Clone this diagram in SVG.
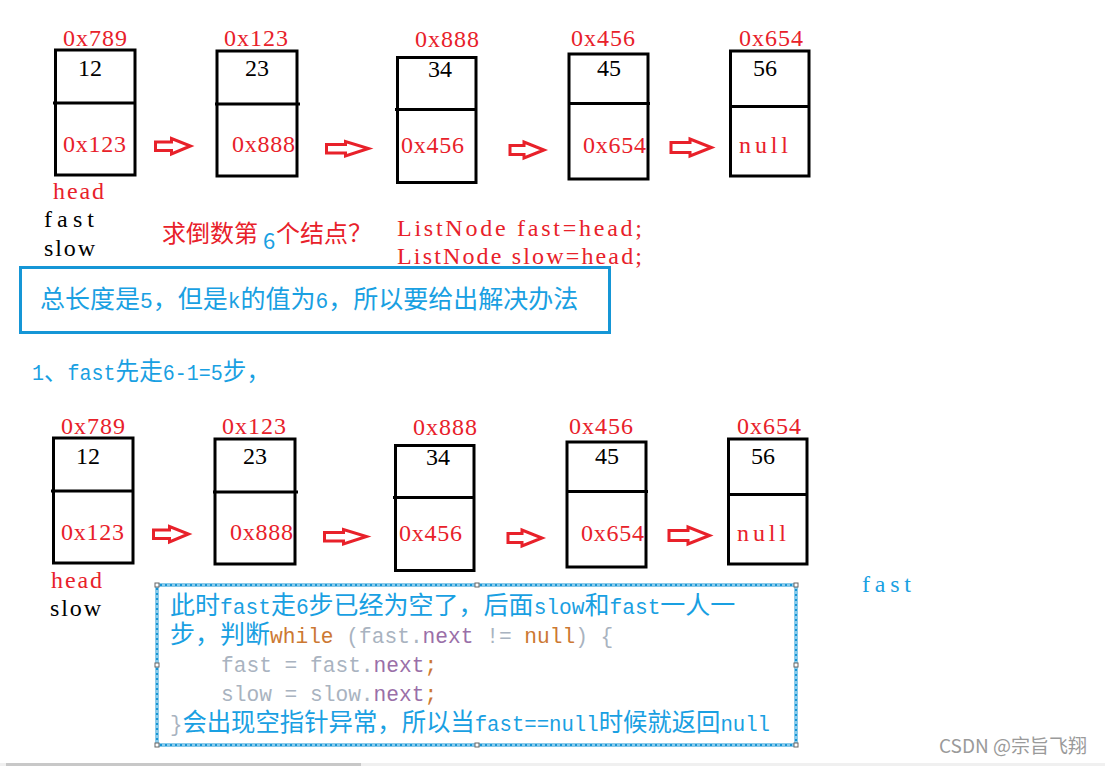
<svg xmlns="http://www.w3.org/2000/svg" width="1105" height="766" viewBox="0 0 1105 766">
<style>
.m{font-family:"Liberation Mono","Noto Sans CJK SC",monospace;font-size:21.2px}
.s{font-family:"Liberation Serif",serif;font-size:24px}
.v{font-family:"Liberation Serif",serif;font-size:24px;fill:#000}
.c{font-family:"Noto Sans CJK SC",sans-serif;font-size:25px}
.r{fill:#e8212a}
.k{fill:#000}
.b{fill:#19a0e2}
.g{fill:#a9b3c0}
.o{fill:#cc7832}
.p{fill:#9a6fa8}
.box{fill:none;stroke:#000;stroke-width:3}
.arr{fill:#fff;stroke:#e8212a;stroke-width:3;stroke-linejoin:miter}
.h{fill:#fff;stroke:#666;stroke-width:1}
</style>
<rect width="1105" height="766" fill="#fff"/>

<!-- top row nodes -->
<g id="n1">
<rect class="box" x="55.5" y="50" width="79.5" height="125"/>
<line class="box" x1="53" y1="103" x2="135" y2="103"/>
<text class="s r" x="63" y="46" textLength="64" lengthAdjust="spacing">0x789</text>
<text class="v" x="78" y="76">12</text>
<text class="s r" x="63" y="152" textLength="63" lengthAdjust="spacing">0x123</text>
</g>
<g id="n2">
<rect class="box" x="217" y="51" width="80" height="125"/>
<line class="box" x1="215" y1="104" x2="300" y2="104"/>
<text class="s r" x="224" y="46" textLength="64" lengthAdjust="spacing">0x123</text>
<text class="v" x="245" y="76">23</text>
<text class="s r" x="232" y="152" textLength="63" lengthAdjust="spacing">0x888</text>
</g>
<g id="n3">
<rect class="box" x="397.5" y="57.5" width="78.5" height="125"/>
<line class="box" x1="395" y1="109.5" x2="477" y2="109.5"/>
<text class="s r" x="415" y="47" textLength="64" lengthAdjust="spacing">0x888</text>
<text class="v" x="428" y="77">34</text>
<text class="s r" x="401" y="153" textLength="63" lengthAdjust="spacing">0x456</text>
</g>
<g id="n4">
<rect class="box" x="569" y="54" width="79" height="125"/>
<line class="box" x1="569" y1="103.5" x2="650" y2="103.5"/>
<text class="s r" x="571" y="46" textLength="64" lengthAdjust="spacing">0x456</text>
<text class="v" x="597" y="76">45</text>
<text class="s r" x="583" y="153" textLength="63" lengthAdjust="spacing">0x654</text>
</g>
<g id="n5">
<rect class="box" x="730.5" y="51" width="78.5" height="125"/>
<line class="box" x1="730" y1="106.5" x2="809" y2="106.5"/>
<text class="s r" x="739" y="46" textLength="64" lengthAdjust="spacing">0x654</text>
<text class="v" x="753" y="76">56</text>
<text class="s r" x="739" y="153" textLength="49" lengthAdjust="spacing">null</text>
</g>

<!-- bottom row nodes -->
<g id="m1" transform="translate(-2,388)">
<rect class="box" x="55.5" y="50" width="79.5" height="125"/>
<line class="box" x1="53" y1="103" x2="135" y2="103"/>
<text class="s r" x="63" y="46" textLength="64" lengthAdjust="spacing">0x789</text>
<text class="v" x="78" y="76">12</text>
<text class="s r" x="63" y="152" textLength="63" lengthAdjust="spacing">0x123</text>
</g>
<g id="m2" transform="translate(-2,388)">
<rect class="box" x="217" y="51" width="80" height="125"/>
<line class="box" x1="215" y1="104" x2="300" y2="104"/>
<text class="s r" x="224" y="46" textLength="64" lengthAdjust="spacing">0x123</text>
<text class="v" x="245" y="76">23</text>
<text class="s r" x="232" y="152" textLength="63" lengthAdjust="spacing">0x888</text>
</g>
<g id="m3" transform="translate(-2,388)">
<rect class="box" x="397.5" y="57.5" width="78.5" height="125"/>
<line class="box" x1="395" y1="109.5" x2="477" y2="109.5"/>
<text class="s r" x="415" y="47" textLength="64" lengthAdjust="spacing">0x888</text>
<text class="v" x="428" y="77">34</text>
<text class="s r" x="401" y="153" textLength="63" lengthAdjust="spacing">0x456</text>
</g>
<g id="m4" transform="translate(-2,388)">
<rect class="box" x="569" y="54" width="79" height="125"/>
<line class="box" x1="569" y1="103.5" x2="650" y2="103.5"/>
<text class="s r" x="571" y="46" textLength="64" lengthAdjust="spacing">0x456</text>
<text class="v" x="597" y="76">45</text>
<text class="s r" x="583" y="153" textLength="63" lengthAdjust="spacing">0x654</text>
</g>
<g id="m5" transform="translate(-2,388)">
<rect class="box" x="730.5" y="51" width="78.5" height="125"/>
<line class="box" x1="730" y1="106.5" x2="809" y2="106.5"/>
<text class="s r" x="739" y="46" textLength="64" lengthAdjust="spacing">0x654</text>
<text class="v" x="753" y="76">56</text>
<text class="s r" x="739" y="153" textLength="49" lengthAdjust="spacing">null</text>
</g>

<!-- connectors -->
<g id="connectors">
<g id="arrows-top">
<path class="arr" d="M155.5,142 H171.5 V138.5 L190.5,146 L171.5,154 V150.5 H155.5 Z"/>
<path class="arr" d="M326.5,144.5 H345.5 V141.5 L368.5,148.5 L345.5,156 V153 H326.5 Z"/>
<path class="arr" d="M510,145.5 H524 V142 L544,150 L524,158 V154.5 H510 Z"/>
<path class="arr" d="M671,142.5 H690 V139 L711.5,147.5 L690,156 V152.5 H671 Z"/>
</g>
<g id="arrows-bottom" transform="translate(-2,388)">
<path class="arr" d="M155.5,142 H171.5 V138.5 L190.5,146 L171.5,154 V150.5 H155.5 Z"/>
<path class="arr" d="M326.5,144.5 H345.5 V141.5 L368.5,148.5 L345.5,156 V153 H326.5 Z"/>
<path class="arr" d="M510,145.5 H524 V142 L544,150 L524,158 V154.5 H510 Z"/>
<path class="arr" d="M671,142.5 H690 V139 L711.5,147.5 L690,156 V152.5 H671 Z"/>
</g>
</g>

<!-- pointer labels -->
<g id="labels">
<text class="s r" x="53" y="199" textLength="51" lengthAdjust="spacing">head</text>
<text class="s k" x="44" y="227" textLength="50" lengthAdjust="spacing">fast</text>
<text class="s k" x="44" y="256" textLength="51" lengthAdjust="spacing">slow</text>
<text class="s r" x="51" y="588" textLength="51" lengthAdjust="spacing">head</text>
<text class="s k" x="50" y="616" textLength="51" lengthAdjust="spacing">slow</text>
<text class="s b" x="862" y="592" textLength="49" lengthAdjust="spacing">fast</text>
</g>

<g id="question">
<text class="c r" x="162" y="242" style="font-size:24px">求倒数第</text>
<text class="c b" x="263" y="249" style="font-size:22px">6</text>
<text class="c r" x="276" y="242" style="font-size:24px">个结点？</text>
</g>

<g id="code-top">
<text class="s r" x="397" y="236" textLength="245" lengthAdjust="spacing">ListNode fast=head;</text>
<text class="s r" x="397" y="264" textLength="245" lengthAdjust="spacing">ListNode slow=head;</text>
</g>

<g id="note1">
<rect x="20.5" y="267.5" width="589" height="65" fill="none" stroke="#1596d6" stroke-width="3"/>
<text class="m b" x="40" y="308"><tspan class="c">总长度是</tspan>5<tspan class="c">，但是</tspan>k<tspan class="c">的值为</tspan>6<tspan class="c">，所以要给出解决办法</tspan></text>
</g>

<g id="step1">
<text class="m b" x="32" y="380" textLength="238" lengthAdjust="spacingAndGlyphs">1<tspan class="c">、</tspan>fast<tspan class="c">先走</tspan>6-1=5<tspan class="c">步，</tspan></text>
</g>

<g id="note2">
<rect x="157" y="585" width="639" height="160" fill="none" stroke="#1596d6" stroke-width="3"/>
<rect x="157" y="585" width="639" height="160" fill="none" stroke="#fff" stroke-width="1" stroke-dasharray="3 2"/>
<rect class="h" x="155" y="583" width="4" height="4"/>
<rect class="h" x="475" y="583" width="4" height="4"/>
<rect class="h" x="794" y="583" width="4" height="4"/>
<rect class="h" x="155" y="663" width="4" height="4"/>
<rect class="h" x="794" y="663" width="4" height="4"/>
<rect class="h" x="155" y="743" width="4" height="4"/>
<rect class="h" x="475" y="743" width="4" height="4"/>
<rect class="h" x="794" y="743" width="4" height="4"/>
<text class="m b" x="170" y="614"><tspan class="c">此时</tspan>fast<tspan class="c">走</tspan>6<tspan class="c">步已经为空了，后面</tspan>slow<tspan class="c">和</tspan>fast<tspan class="c">一人一</tspan></text>
<text class="m" x="170" y="643"><tspan class="c b">步，判断</tspan><tspan class="o">while</tspan><tspan class="g"> (fast.</tspan><tspan class="p">next</tspan><tspan class="g"> != </tspan><tspan class="o">null</tspan><tspan class="g">) {</tspan></text>
<text class="m" x="221" y="672"><tspan class="g">fast = fast.</tspan><tspan class="p">next</tspan><tspan class="o">;</tspan></text>
<text class="m" x="221" y="701"><tspan class="g">slow = slow.</tspan><tspan class="p">next</tspan><tspan class="o">;</tspan></text>
<text class="m" x="170" y="731" textLength="600" lengthAdjust="spacingAndGlyphs"><tspan class="g">}</tspan><tspan class="c b">会出现空指针异常，所以当</tspan><tspan class="b">fast==null</tspan><tspan class="c b">时候就返回</tspan><tspan class="b">null</tspan></text>
</g>

<g id="watermark">
<text x="939" y="753" style="font-family:'Noto Sans CJK SC','Noto Sans',sans-serif;font-size:19px;fill:#9a9a9a">CSDN @宗旨飞翔</text>
</g>
<rect x="0" y="763" width="1105" height="3" fill="#f0f0f0"/>
<rect x="6" y="763" width="355" height="3" fill="#c8c8c8"/>
</svg>
